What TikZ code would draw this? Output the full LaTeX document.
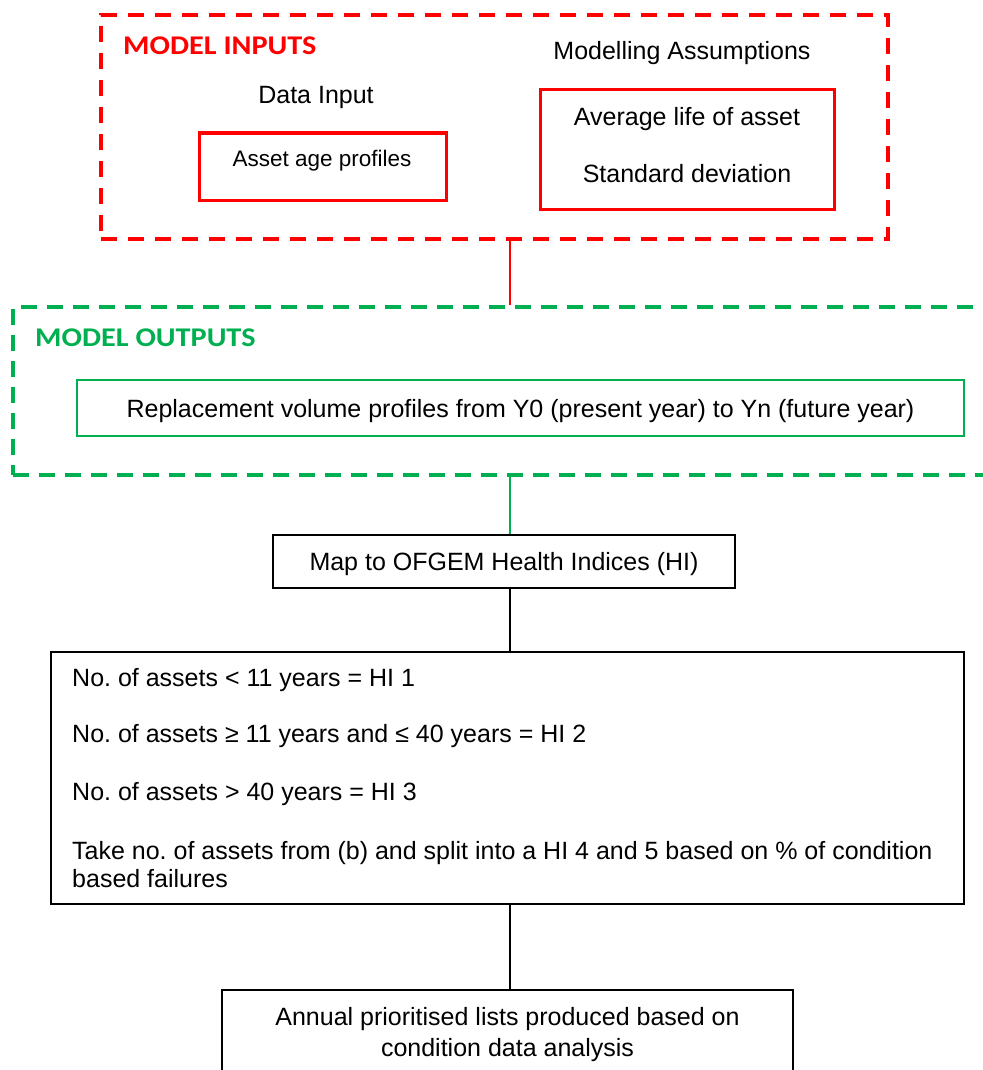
\documentclass[tikz,border=0pt]{standalone}
\usepackage{fontspec}
\setmainfont{Liberation Sans}
\newfontfamily\headfont{Carlito}[FakeStretch=1.12]
\definecolor{ppred}{HTML}{FF0000}
\definecolor{ppgreen}{HTML}{00B050}
\tikzset{
  txt/.style={font=\fontsize{25}{28}\selectfont\frenchspacing, inner sep=0pt},
  one/.style={text height=18pt, text depth=0pt},
  smalltxt/.style={font=\fontsize{22.5}{26}\selectfont, inner sep=0pt, text height=16pt, text depth=0pt},
  head/.style={font=\headfont\bfseries\fontsize{27}{30}\selectfont, inner sep=0pt, anchor=west, text height=17.5pt, text depth=0pt},
  redgroup/.style={draw=ppred, line width=4pt, dash pattern=on 16pt off 11pt, inner sep=0pt},
  greengroup/.style={draw=ppgreen, line width=4pt, dash pattern=on 16pt off 10pt, inner sep=0pt},
  redbox/.style={draw=ppred, line width=3pt, inner sep=0pt},
  greenbox/.style={draw=ppgreen, line width=2pt, inner sep=0pt},
  blackbox/.style={draw=black, line width=2.2pt, inner sep=0pt},
  redlink/.style={draw=ppred, line width=2pt},
  greenlink/.style={draw=ppgreen, line width=1.3pt},
  blacklink/.style={draw=black, line width=2pt},
}
\begin{document}
\begin{tikzpicture}[x=1pt,y=-1pt]
\useasboundingbox (0,0) rectangle (982,1070);
\coordinate (spine) at (510,0);

% Model inputs group
\node[redgroup, minimum width=787pt, minimum height=224pt] (inputs) at (494.5,127) {};
\node[head, text=ppred] (inlabel) at (123,46) {MODEL INPUTS};
\node[txt, one] (assumptitle) at (682,51) {Modelling Assumptions};
\node[txt, one] (datatitle) at (316,95) {Data Input};
\node[redbox, minimum width=247pt, minimum height=67pt] (agebox) at (322.5,166.5) {};
\node[smalltxt] (agetext) at (322,158) {Asset age profiles};
\node[redbox, minimum width=294pt, minimum height=119pt] (assumbox) at (687,149.5) {};
\node[txt, one] (avglife) at (687,116) {Average life of asset};
\node[txt, one] (stddev) at (687,173) {Standard deviation};

% Model outputs group
\node[greengroup, minimum width=994pt, minimum height=168pt] (outputs) at (510,391) {};
\node[head, text=ppgreen] (outlabel) at (35,338) {MODEL OUTPUTS};
\node[greenbox, minimum width=887pt, minimum height=56pt, txt, one] (replace) at (520.5,408) {Replacement volume profiles from Y0 (present year) to Yn (future year)};

% Flow
\node[blackbox, minimum width=462pt, minimum height=53pt, txt, one] (map) at (504,561.5) {Map to OFGEM Health Indices (HI)};
\node[blackbox, minimum width=913pt, minimum height=252pt] (rules) at (507.5,778) {};
\node[txt, anchor=base west] (r1) at (72,686) {No. of assets < 11 years = HI 1};
\node[txt, anchor=base west] (r2) at (72,742) {No. of assets ≥ 11 years and ≤ 40 years = HI 2};
\node[txt, anchor=base west] (r3) at (72,800) {No. of assets > 40 years = HI 3};
\node[txt, anchor=base west] (r4) at (72,859) {Take no. of assets from (b) and split into a HI 4 and 5 based on \% of condition};
\node[txt, anchor=base west] (r5) at (72,887) {based failures};
\node[blackbox, minimum width=571pt, minimum height=89pt, txt, align=center, font=\fontsize{25}{31}\selectfont] (lists) at (507.5,1034.5) {Annual prioritised lists produced based on\\condition data analysis};

% Connectors
\draw[redlink] (inputs.south -| spine) -- (outputs.north -| spine);
\draw[greenlink] (outputs.south -| spine) -- (map.north -| spine);
\draw[blacklink] (map.south -| spine) -- (rules.north -| spine);
\draw[blacklink] (rules.south -| spine) -- (lists.north -| spine);
\end{tikzpicture}
\end{document}
